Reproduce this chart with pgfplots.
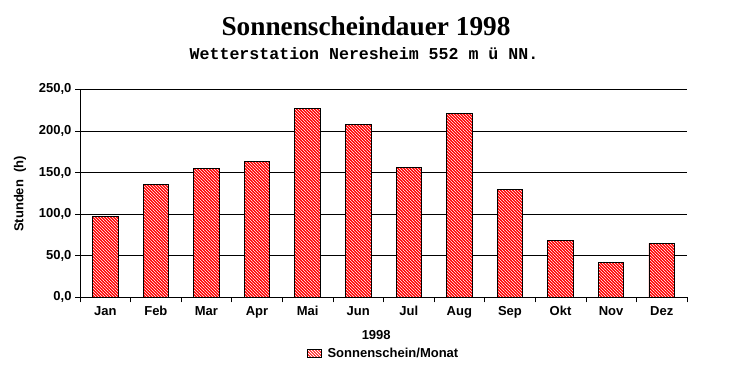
\documentclass[border=0pt]{standalone}
\usepackage{pgfplots}
\pgfplotsset{compat=1.18}
\usepackage{fontspec}
\setmainfont{Liberation Sans}
\newfontfamily\titlefont{Liberation Serif}
\newfontfamily\subfont{Liberation Mono}
\usetikzlibrary{patterns.meta}
\begin{document}
\begin{tikzpicture}
\path[use as bounding box, fill=white] (0,0) rectangle (732bp,384bp);
\node[anchor=base, font=\titlefont\bfseries\fontsize{27.3bp}{29bp}\selectfont] at (366bp,348bp) {Sonnenscheindauer 1998};
\node[anchor=base, font=\subfont\bfseries\fontsize{16.6bp}{18bp}\selectfont] at (364bp,324bp) {Wetterstation Neresheim 552 m ü NN.};
\begin{axis}[
  at={(80bp,86.7bp)}, anchor=south west,
  scale only axis, width=607bp, height=208bp,
  xmin=-0.5, xmax=11.5, ymin=0, ymax=250,
  axis lines*=left,
  axis line style={black, line width=0.8pt},
  xtick={0,...,11},
  xticklabels={Jan,Feb,Mar,Apr,Mai,Jun,Jul,Aug,Sep,Okt,Nov,Dez},
  major x tick style={draw=none},
  minor xtick={-0.5,0.5,...,11.5},
  minor x tick style={black, line width=0.6pt},
  minor tick length=5bp,
  xminorgrids=false,
  ytick={0,50,...,250},
  major tick length=5bp,
  tick align=outside,
  y tick style={black, line width=0.6pt},
  ymajorgrids,
  grid style={black, line width=0.8pt},
  /pgf/number format/assume math mode=true,
  yticklabel style={/pgf/number format/.cd, fixed, fixed zerofill, precision=1, use comma, 1000 sep={}},
  ticklabel style={font=\bfseries\fontsize{13bp}{15bp}\selectfont},
  xticklabel style={text height=9.5bp, text depth=3bp},
  xlabel={1998},
  xlabel style={at={(axis description cs:0.488,-0.181)}, anchor=center, font=\bfseries\fontsize{13bp}{15bp}\selectfont},
  ylabel={Stunden\ \ (h)},
  ylabel style={at={(axis description cs:-0.099,0.497)}, anchor=center, rotate=0, font=\bfseries\fontsize{13bp}{15bp}\selectfont},
  legend style={at={(axis description cs:0.5,-0.268)}, anchor=center, draw=none, fill=none,
    font=\bfseries\fontsize{13bp}{15bp}\selectfont},
  legend image code/.code={
    \begin{scope}
    \path[fill=red, draw=none] (0bp,-4bp) rectangle (14bp,4bp);
    \clip (0bp,-4bp) rectangle (14bp,4bp);
    \foreach \k in {-12,-9,...,16} {
      \draw[white, line width=0.55bp] (\k bp,4bp) -- ++(8bp,-8bp);
    }
    \end{scope}
    \draw[black, line width=0.6pt, fill=none] (0bp,-4bp) rectangle (14bp,4bp);
  },
  legend cell align=left,
]
\addplot[ybar, bar width=25.5bp, fill=red, draw=black, line width=0.8pt,
  postaction={pattern={Lines[angle=-45,distance=2.1213bp,line width=0.55bp]}, pattern color=white}]
coordinates {
(0,97.7) (1,135.8) (2,154.6) (3,163.5) (4,226.7) (5,207.9)
(6,155.8) (7,221.2) (8,129.8) (9,68.5) (10,42.1) (11,64.9)
};
\addlegendentry{\hspace{4bp}Sonnenschein/Monat}
\end{axis}
\end{tikzpicture}
\end{document}
